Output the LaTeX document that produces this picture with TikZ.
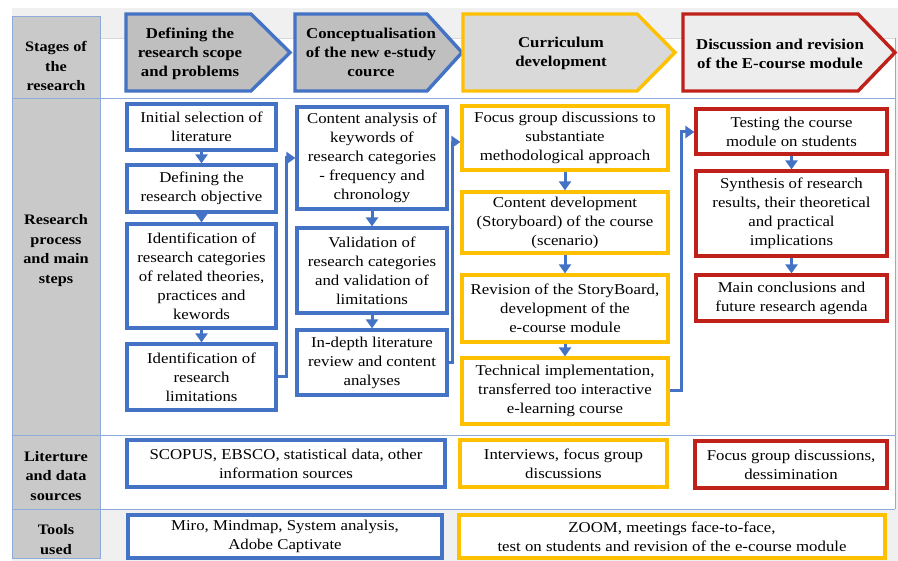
\documentclass[tikz,border=0pt]{standalone}
\usepackage{fontspec}
\setmainfont{Liberation Serif}[FakeStretch=1.12]
\usetikzlibrary{arrows.meta,calc}
\definecolor{cblue}{HTML}{4472C4}
\definecolor{cyel}{HTML}{FFC000}
\definecolor{cred}{HTML}{C0201A}
\definecolor{lblgray}{HTML}{C9C9C9}
\definecolor{tline}{HTML}{8EAADB}
\definecolor{panel}{HTML}{F0F0F0}
\definecolor{headA}{HTML}{BFBFBF}
\definecolor{headB}{HTML}{D9D9D9}
\definecolor{headC}{HTML}{EDEDED}
\tikzset{
  box/.style={draw, line width=3.2pt, fill=white, align=center, inner sep=0pt,
    font=\fontsize{15}{19}\selectfont},
  bbox/.style={box, draw=cblue},
  ybox/.style={box, draw=cyel},
  rbox/.style={box, draw=cred},
  lbl/.style={align=center, font=\fontsize{14.5}{19.5}\selectfont\bfseries},
  htext/.style={align=center, font=\fontsize{15}{19}\selectfont\bfseries},
  flow/.style={draw=cblue, line width=3pt, -{Triangle[width=12pt,length=9pt]}},
  stagearrow/.style={line width=3.4pt, line join=miter},
  tabline/.style={draw=tline, line width=0.8pt},
}
\begin{document}
\begin{tikzpicture}[x=1pt,y=-1pt]
\useasboundingbox (0,0) rectangle (898,561);
% background panel
\fill[panel] (12,8) rectangle (898,561);
\fill[white] (100,38) rectangle (895,509);
\draw[draw=headB, line width=0.8pt] (100,38) -- (895,38);
\draw[tabline] (895,38) -- (895,509);
% label column
\fill[lblgray] (12.7,16) rectangle (100,558);
\draw[tabline] (12.7,16) rectangle (100,558);
\draw[tabline] (12.7,98) -- (895,98);
\draw[tabline] (12.7,435) -- (895,435);
\draw[tabline] (12.7,509) -- (895,509);

\node[lbl] (lstage) at (56,66) {Stages of\\the\\research};
\node[lbl] (lproc) at (56,250.5) {Research\\process\\and main\\steps};
\node[lbl] (llit) at (56,476) {Literture\\and data\\sources};
\node[lbl] (ltool) at (56,539.5) {Tools\\used};

% stage arrows
\draw[stagearrow, draw=cblue, fill=headA] (126,14) -- (251,14) -- (290,52.5) -- (251,91) -- (126,91) -- cycle;
\draw[stagearrow, draw=cblue, fill=headA] (295,14) -- (427,14) -- (462,52.5) -- (427,91) -- (295,91) -- cycle;
\draw[stagearrow, draw=cyel, fill=headB] (463,14) -- (637,14) -- (675,52.5) -- (637,91) -- (463,91) -- cycle;
\draw[stagearrow, draw=cred, fill=headC] (683,14) -- (858,14) -- (895,52.5) -- (858,91) -- (683,91) -- cycle;
\node[htext] (s1) at (190,54) {Defining the\\research scope\\and problems};
\node[htext] (s2) at (371,52) {Conceptualisation\\of the new e-study\\cource};
\node[htext] (s3) at (561,53.5) {Curriculum\\development};
\node[htext] (s4) at (780,53.5) {Discussion and revision\\of the E-course module};

% column 1
\node[bbox, minimum width=149pt, minimum height=46pt] (c1a) at (201.5,127) {Initial selection of\\literature};
\node[bbox, minimum width=149pt, minimum height=47pt] (c1b) at (201.5,188.5) {Defining the\\research objective};
\node[bbox, minimum width=149pt, minimum height=104pt] (c1c) at (201.5,276) {Identification of\\research categories\\of related theories,\\practices and\\kewords};
\node[bbox, minimum width=149pt, minimum height=66pt] (c1d) at (201.5,377) {Identification of\\research\\limitations};
% column 2
\node[bbox, minimum width=150pt, minimum height=102pt] (c2a) at (372,158) {Content analysis of\\keywords of\\research categories\\- frequency and\\chronology};
\node[bbox, minimum width=150pt, minimum height=85pt] (c2b) at (372,270.5) {Validation of\\research categories\\and validation of\\limitations};
\node[bbox, minimum width=150pt, minimum height=65pt] (c2c) at (372,362.5) {In-depth literature\\review and content\\analyses};
% column 3
\node[ybox, minimum width=206pt, minimum height=64pt] (c3a) at (565,138) {Focus group discussions to\\substantiate\\methodological approach};
\node[ybox, minimum width=206pt, minimum height=61pt] (c3b) at (565,222.5) {Content development\\(Storyboard) of the course\\(scenario)};
\node[ybox, minimum width=206pt, minimum height=67pt] (c3c) at (565,308.5) {Revision of the StoryBoard,\\development of the\\e-course module};
\node[ybox, minimum width=206pt, minimum height=66pt] (c3d) at (565,391) {Technical implementation,\\transferred too interactive\\e-learning course};
% column 4
\node[rbox, minimum width=191pt, minimum height=45pt] (c4a) at (791.5,131.5) {Testing the course\\module on students};
\node[rbox, minimum width=191pt, minimum height=85pt] (c4b) at (791.5,213.5) {Synthesis of research\\results, their theoretical\\and practical\\implications};
\node[rbox, minimum width=191pt, minimum height=46pt] (c4c) at (791.5,298) {Main conclusions and\\future research agenda};

% literature row
\node[bbox, minimum width=318pt, minimum height=47pt] (l1) at (286,463.5) {SCOPUS, EBSCO, statistical data, other\\information sources};
\node[ybox, minimum width=207pt, minimum height=47pt] (l2) at (563.5,463.5) {Interviews, focus group\\discussions};
\node[rbox, minimum width=192pt, minimum height=47pt] (l3) at (791,464.5) {Focus group discussions,\\dessimination};
% tools row
\node[bbox, minimum width=314pt, minimum height=43pt] (t1) at (285,536.5) {Miro, Mindmap, System analysis,\\Adobe Captivate};
\node[ybox, minimum width=426pt, minimum height=43pt] (t2) at (672,536.5) {ZOOM, meetings face-to-face,\\test on students and revision of the e-course module};

% vertical flows
\draw[flow] (c1a.south) -- (c1b.north);
\draw[flow] (c1b.south) -- (c1c.north);
\draw[flow] (c1c.south) -- (c1d.north);
\draw[flow] (c2a.south) -- (c2b.north);
\draw[flow] (c2b.south) -- (c2c.north);
\draw[flow] (c3a.south) -- (c3b.north);
\draw[flow] (c3b.south) -- (c3c.north);
\draw[flow] (c3c.south) -- (c3d.north);
\draw[flow] (c4a.south) -- (c4b.north);
\draw[flow] (c4b.south) -- (c4c.north);

% elbow connectors between stages
\coordinate (k1) at (286,158);
\coordinate (k2) at (452,142);
\coordinate (k3) at (681,132);
\draw[flow] (c1d.east) -| (k1) -- (k1 -| c2a.west);
\draw[flow] (c2c.east) -| (k2) -- (k2 -| c3a.west);
\draw[flow] (c3d.east) -| (k3) -- (k3 -| c4a.west);
\end{tikzpicture}
\end{document}
